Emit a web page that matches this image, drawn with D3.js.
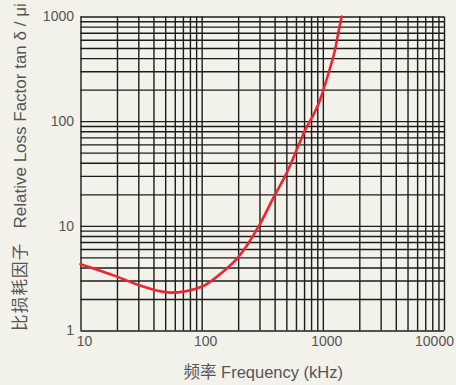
<!DOCTYPE html>
<html><head><meta charset="utf-8">
<script src="https://cdn.jsdelivr.net/npm/d3@7"></script>
<style>
html,body{margin:0;padding:0;background:#f2f1ea;}
svg{display:block;}
text{font-family:"Liberation Sans","Noto Sans CJK SC",Arial,sans-serif;fill:#555;}
</style></head>
<body><svg id="c" width="456" height="385"></svg>
<script>
const freq = [10, 20, 30, 55, 100, 150, 200, 300, 400, 500, 700, 950, 1140, 1260, 1340, 1430];
const loss = [4.3, 3.27, 2.72, 2.3, 2.62, 3.65, 5.0, 10.2, 19.5, 31.5, 78, 160, 315, 478, 690, 1000];
const xTickLabels = [10, 100, 1000, 10000];
const yTickLabels = [1, 10, 100, 1000];
const xTitle = "频率 Frequency (kHz)";
const yTitleCJK = "比损耗因子";
const yTitleLatin = "Relative Loss Factor tan δ / μi";

const L = 80.5, R = 444, T = 16.5, B = 330.5;
const svg = d3.select("#c");
svg.append("rect").attr("width",456).attr("height",385).attr("fill","#f2f1ea");
const x = d3.scaleLog().domain([10,10000]).range([L,R]);
const y = d3.scaleLog().domain([1,1000]).range([B,T]);

function gridVals(lo, hi){
  const v=[];
  for(let d=lo; d<hi; d*=10){ for(let m=1;m<10;m++) v.push(m*d); }
  v.push(hi); return v;
}
const gx = svg.append("g").attr("transform",`translate(0,${B})`)
  .call(d3.axisBottom(x).tickValues(gridVals(10,10000)).tickSize(-(B-T)).tickFormat(""));
const gy = svg.append("g").attr("transform",`translate(${L},0)`)
  .call(d3.axisLeft(y).tickValues(gridVals(1,1000)).tickSize(-(R-L)).tickFormat(""));
[gx,gy].forEach(g=>{
  g.select(".domain").remove();
  g.selectAll(".tick line").attr("stroke","#1c1c1c").attr("stroke-width",1.4);
});

// tick labels
const lx = svg.append("g").attr("transform",`translate(0,${B})`)
  .call(d3.axisBottom(x).tickValues(xTickLabels).tickSize(0).tickPadding(6).tickFormat(d3.format("d")));
lx.select(".domain").remove();
lx.selectAll("text").attr("font-size",14).attr("fill","#555")
  .attr("font-family","Liberation Sans, Arial, sans-serif")
  .attr("dx", d => d===10000 ? -10 : 3.5);
const ly = svg.append("g").attr("transform",`translate(${L},0)`)
  .call(d3.axisLeft(y).tickValues(yTickLabels).tickSize(0).tickPadding(6.5).tickFormat(d3.format("d")));
ly.select(".domain").remove();
ly.selectAll("text").attr("font-size",14).attr("fill","#555")
  .attr("font-family","Liberation Sans, Arial, sans-serif");

// curve
const line = d3.line().x((d,i)=>x(freq[i])).y((d,i)=>y(loss[i])).curve(d3.curveMonotoneX);
svg.append("path").datum(loss).attr("d",line).attr("fill","none")
  .attr("stroke","#ee2431").attr("stroke-width",2.6).attr("stroke-linecap","round");

// titles
svg.append("text").attr("x",(L+R)/2+1).attr("y",378).attr("text-anchor","middle")
  .attr("font-size",16.5).text(xTitle);
const yt = svg.append("text").attr("transform","translate(26,331) rotate(-90)").attr("text-anchor","start");
yt.append("tspan").attr("font-size",16.5).attr("letter-spacing",1.2).attr("font-family","Noto Sans CJK SC, sans-serif").text(yTitleCJK);
yt.append("tspan").attr("font-size",17).attr("dx",14).text(yTitleLatin);
</script></body></html>
